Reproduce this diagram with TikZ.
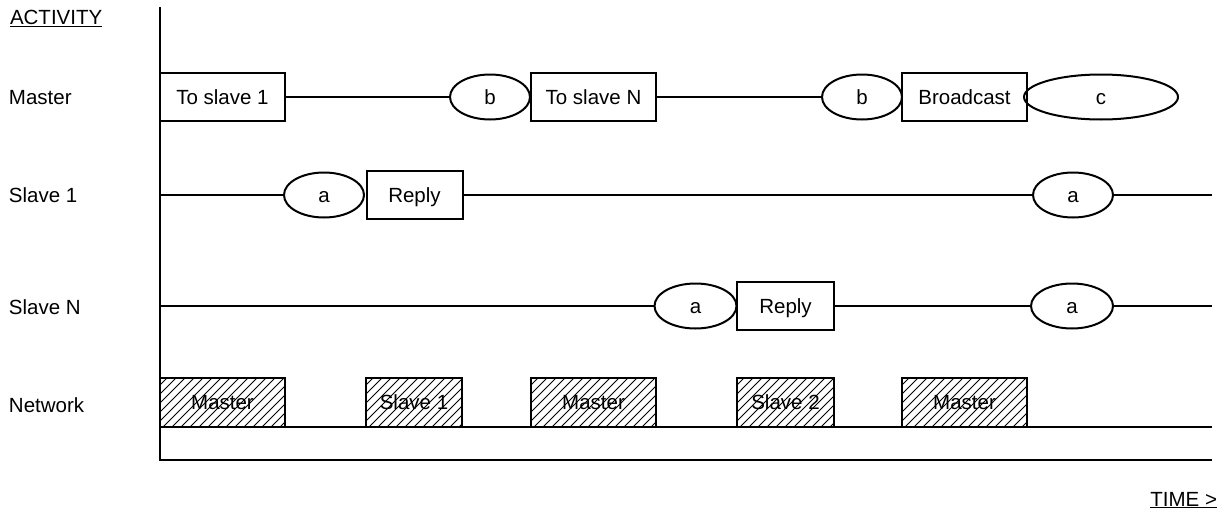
\documentclass[tikz,border=0pt]{standalone}
\usepackage{fontspec}
\setmainfont{Liberation Sans}
\usetikzlibrary{shapes.geometric}

\begin{document}
\begin{tikzpicture}[x=1pt,y=-1pt,line width=2pt,
		every node/.style={font=\fontsize{20.5}{24}\selectfont,inner sep=0pt,text height=14.5pt,text depth=0pt},
		msg/.style={draw,rectangle,minimum height=48pt},
		waitell/.style={draw,ellipse,minimum width=80pt,minimum height=45pt},
		netbox/.style={draw,rectangle,minimum height=49pt,
			path picture={\foreach \k in {-60,-51,...,135}
				\draw[line width=1pt] ([xshift=\k pt]path picture bounding box.south west) -- ++(60,-60);}}]
			\useasboundingbox (0,0) rectangle (1226,514);
			% axes
			\coordinate (top) at (160,7);
			\coordinate (orig) at (160,460);
			\coordinate (far) at (1212,460);
			\draw (top) -- (orig) -- (far);
			\node[anchor=west] (act) at (9,17) {\underline{ACTIVITY}};
			\node[anchor=east] (time) at (1218,499) {\underline{TIME >}};
			% row labels
			\node[anchor=west] (lmaster) at (8,97) {Master};
			\node[anchor=west] (lslave1) at (8,195) {Slave 1};
			\node[anchor=west] (lslaveN) at (8,307) {Slave N};
			\node[anchor=west] (lnet) at (8,405) {Network};
			% master
			\node[msg,minimum width=125pt] (m1) at (222.5,97) {To slave 1};
			\node[waitell] (mb1) at (490,97) {b};
			\node[msg,minimum width=125pt] (m2) at (593.5,97) {To slave N};
			\node[waitell] (mb2) at (862,97) {b};
			\node[msg,minimum width=125pt] (m3) at (964.5,97) {Broadcast};
			\node[waitell,minimum width=154pt] (mc) at (1101,97) {c};
			\draw (m1.east) -- (mb1.west);
			\draw (m2.east) -- (mb2.west);
			% slave 1
			\coordinate (s1start) at (160,195);
			\coordinate (s1end) at (1212,195);
			\node[waitell] (s1a) at (324,195) {a};
			\node[msg,minimum width=96pt] (s1r) at (414.5,195) {Reply};
			\node[waitell] (s1b) at (1073,195) {a};
			\draw (s1start) -- (s1a.west);
			\draw (s1r.east) -- (s1b.west);
			\draw (s1b.east) -- (s1end);
			% slave N
			\coordinate (sNstart) at (160,306);
			\coordinate (sNend) at (1212,306);
			\node[waitell,minimum width=82pt] (sNa) at (695.5,306) {a};
			\node[msg,minimum width=97pt] (sNr) at (785.5,306) {Reply};
			\node[waitell,minimum width=82pt] (sNb) at (1072,306) {a};
			\draw (sNstart) -- (sNa.west);
			\draw (sNr.east) -- (sNb.west);
			\draw (sNb.east) -- (sNend);
			% network
			\coordinate (netstart) at (160,427);
			\coordinate (netend) at (1212,427);
			\draw (netstart) -- (netend);
			\node[netbox,minimum width=125pt] (n1) at (222.5,402.5) {Master};
			\node[netbox,minimum width=96pt] (n2) at (414,402.5) {Slave 1};
			\node[netbox,minimum width=125pt] (n3) at (593.5,402.5) {Master};
			\node[netbox,minimum width=97pt] (n4) at (785.5,402.5) {Slave 2};
			\node[netbox,minimum width=125pt] (n5) at (964.5,402.5) {Master};
		\end{tikzpicture}
\end{document}
